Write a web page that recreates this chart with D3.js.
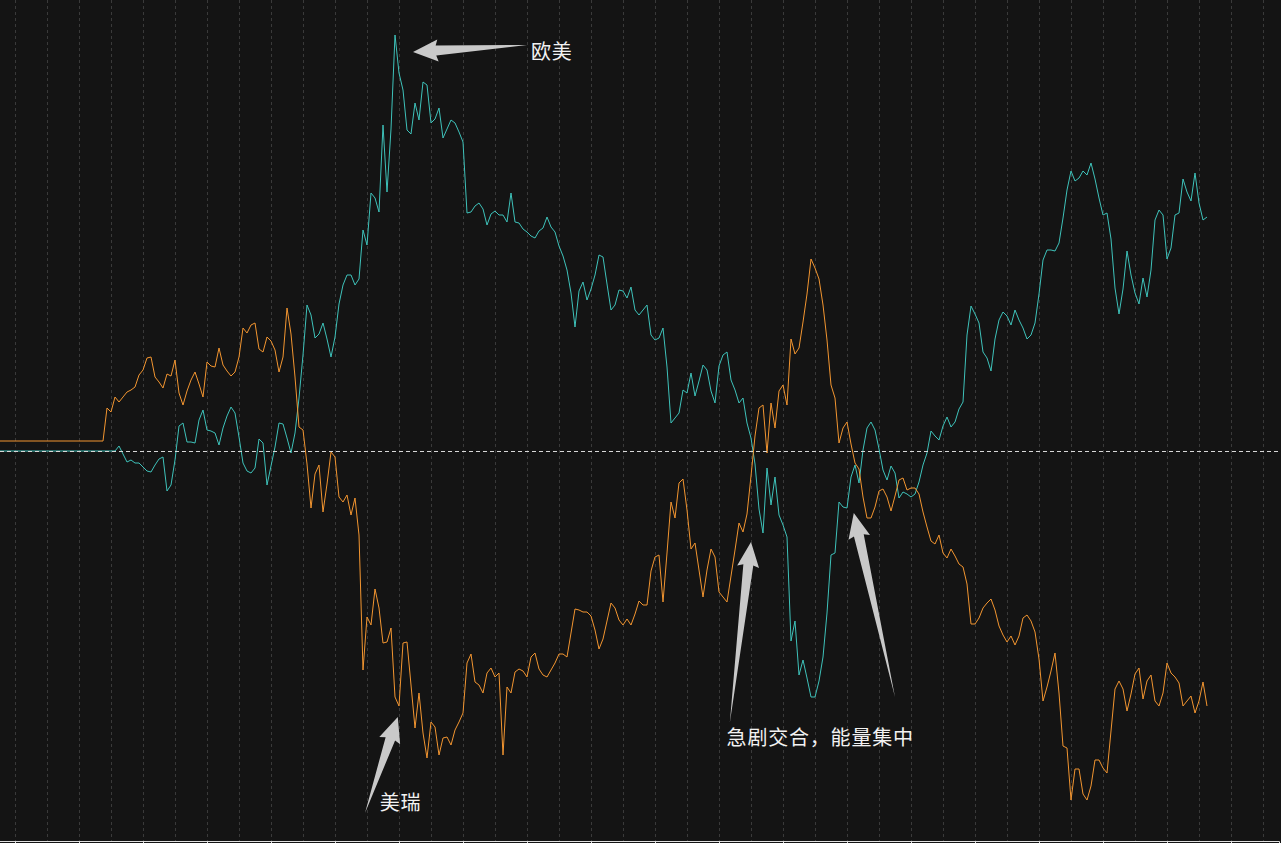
<!DOCTYPE html>
<html><head><meta charset="utf-8">
<script src="https://cdn.jsdelivr.net/npm/d3@7"></script>
<style>html,body{margin:0;padding:0;background:#141414;overflow:hidden}</style>
</head><body><svg id="chart" width="1281" height="843"></svg>
<script>
// relative performance, one value per bar (0 = start level)
const eurusd = [
0,0,0,0,0,0,0,0,0,0,0,0,0,0,0,0,0,0,0,0,0,0,0,0,0,0,
0,0,0,0,5,-3,-11,-9,-12,-12,
-16,-20,-21,-14,-8,-6,-40,-34,-9,25,
28,9,9,8,31,41,21,20,18,6,
23,35,44,38,14,-12,-20,-22,-17,12,
8,-34,-15,4,28,27,13,-2,18,53,
96,146,136,113,117,128,112,94,114,147,
166,176,176,166,172,221,206,258,253,239,
326,259,322,416,378,361,321,317,348,331,
369,366,328,332,343,313,322,331,328,319,
309,238,239,245,248,242,226,237,240,236,
236,229,258,229,228,222,219,215,213,220,
223,234,224,219,205,195,181,158,124,160,
169,151,162,176,196,194,167,141,146,161,
160,153,164,141,136,141,146,116,111,113,
123,84,28,33,38,61,58,78,55,70,
86,81,60,48,85,96,99,71,61,48,
53,28,13,-13,-58,-82,-17,-54,-26,-64,
-74,-86,-190,-170,-224,-209,-227,-246,-246,-230,
-206,-162,-104,-102,-51,-56,-57,-26,-14,-32,
1,23,29,21,2,-19,-29,-15,-22,-47,
-41,-43,-46,-43,-31,-14,-2,20,15,11,
25,34,24,29,42,49,116,145,137,128,
99,93,80,112,131,139,135,126,141,131,
123,112,116,128,157,191,201,201,200,208,
233,261,280,270,273,280,276,288,272,253,
236,238,212,163,137,162,200,176,158,147,
173,154,181,231,241,236,192,203,236,238,
272,259,250,278,248,231,234
];
const usdchf = [
10,10,10,10,10,10,10,10,10,10,10,10,10,10,10,10,10,10,10,10,10,10,10,10,10,10,
10,43,39,54,49,54,59,61,64,76,
81,93,94,74,69,63,77,75,91,58,
46,60,71,79,67,54,89,85,84,103,
86,80,75,79,94,123,118,126,128,102,
99,114,110,101,79,94,143,117,74,24,
21,-13,-57,-23,-14,-61,-33,-1,-6,-46,
-51,-44,-64,-47,-84,-219,-166,-174,-138,-157,
-192,-191,-177,-246,-255,-192,-191,-234,-277,-242,
-282,-307,-271,-276,-304,-287,-286,-294,-279,-271,
-262,-212,-203,-231,-234,-242,-222,-217,-226,-222,
-304,-236,-242,-221,-218,-220,-226,-206,-202,-218,
-224,-226,-219,-212,-203,-203,-206,-182,-158,-159,
-161,-161,-165,-179,-198,-188,-170,-152,-157,-169,
-174,-168,-174,-163,-150,-154,-154,-120,-106,-104,
-151,-102,-51,-67,-32,-28,-59,-98,-92,-119,
-146,-119,-98,-106,-141,-146,-151,-125,-99,-72,
-81,-63,-25,15,43,46,-2,48,23,60,
66,46,112,97,103,129,157,192,183,172,
146,111,66,53,8,23,29,7,-12,-18,
-46,-67,-67,-56,-40,-38,-46,-60,-45,-29,
-27,-39,-37,-37,-43,-61,-76,-90,-93,-84,
-102,-107,-98,-105,-113,-116,-133,-173,-173,-167,
-157,-152,-148,-159,-175,-184,-191,-185,-194,-185,
-167,-164,-170,-181,-208,-250,-236,-220,-202,-242,
-295,-297,-349,-318,-318,-343,-349,-335,-309,-309,
-317,-322,-280,-238,-230,-238,-260,-243,-223,-217,
-248,-230,-224,-250,-255,-242,-212,-222,-226,-232,
-255,-250,-245,-262,-250,-231,-255
];
const seriesNames = ["欧美", "美瑞"];
const seriesColors = ["#3ec2ba", "#f29530"];
// annotation texts, positions in (bar, value)
const labelTexts = ["欧美", "美瑞", "急剧交合，能量集中"];
const labelBars = [133, 95.2, 181.9];
const labelValues = [392, -359, -294];
// arrows: tail -> tip in (bar, value)
const arrowTailBars = [132, 91.5, 182.7, 224];
const arrowTailValues = [406, -362, -272, -246];
const arrowTipBars = [103.5, 99.7, 188, 213.7];
const arrowTipValues = [399, -266, -91, -62];
const gridBars = d3.range(4, 321, 8);
const tickBars = d3.range(4, 321, 16);

const W = 1281, H = 843;
const svg = d3.select("#chart");
svg.append("rect").attr("width", W).attr("height", H).attr("fill", "#141414");

const x = d3.scaleLinear().domain([0, 320]).range([-1, 1279]);
const y = d3.scaleLinear().domain([-392, 451]).range([843, 0]);

// vertical dotted grid
svg.append("g").selectAll("line").data(gridBars).join("line")
  .attr("x1", d => Math.round(x(d)) + 0.5).attr("x2", d => Math.round(x(d)) + 0.5)
  .attr("y1", 0).attr("y2", 841)
  .attr("stroke", "#3a3a3a").attr("stroke-width", 1).attr("stroke-dasharray", "3,3");

// bottom axis
const axis = svg.append("g").attr("transform", "translate(0,841)")
  .call(d3.axisBottom(x).tickValues(tickBars).tickSize(6).tickFormat(""));
axis.selectAll("path,line").attr("stroke", "#e0e0e0");

// series lines
const line = d3.line().x((d, i) => x(i)).y(d => y(d));
[eurusd, usdchf].forEach((s, k) => {
  svg.append("path").datum(s).attr("d", line)
    .attr("fill", "none").attr("stroke", seriesColors[k]).attr("stroke-width", 1)
    .attr("stroke-linejoin", "miter");
});

// zero baseline
svg.append("line").attr("x1", 0).attr("x2", W)
  .attr("y1", Math.round(y(0)) + 0.5).attr("y2", Math.round(y(0)) + 0.5)
  .attr("stroke", "#d8d8d8").attr("stroke-width", 1).attr("stroke-dasharray", "4,3");

// arrows
const ag = svg.append("g");
arrowTipBars.forEach((tb, k) => {
  const tx = x(tb), ty = y(arrowTipValues[k]);
  const sx = x(arrowTailBars[k]), sy = y(arrowTailValues[k]);
  const dx = tx - sx, dy = ty - sy, L = Math.hypot(dx, dy);
  const ux = dx / L, uy = dy / L, px = -uy, py = ux;
  const headLen = 25, headW = 11, shaftW = 5;
  const bx = tx - ux * headLen, by = ty - uy * headLen;
  const pts = [
    [tx, ty],
    [bx + px * headW, by + py * headW],
    [bx + px * shaftW + ux * 2, by + py * shaftW + uy * 2],
    [sx, sy],
    [bx - px * shaftW + ux * 2, by - py * shaftW + uy * 2],
    [bx - px * headW, by - py * headW]
  ];
  ag.append("polygon").attr("points", pts.map(p => p.join(",")).join(" "))
    .attr("fill", "#c9c9c9");
});

// labels
svg.append("g").selectAll("text").data(labelTexts).join("text")
  .attr("x", (d, i) => x(labelBars[i])).attr("y", (d, i) => y(labelValues[i]))
  .attr("fill", "#f2f2f2").attr("font-size", 20).attr("letter-spacing", 0.8)
  .attr("font-family", "'Noto Sans CJK SC', sans-serif")
  .text(d => d);
</script></body></html>
